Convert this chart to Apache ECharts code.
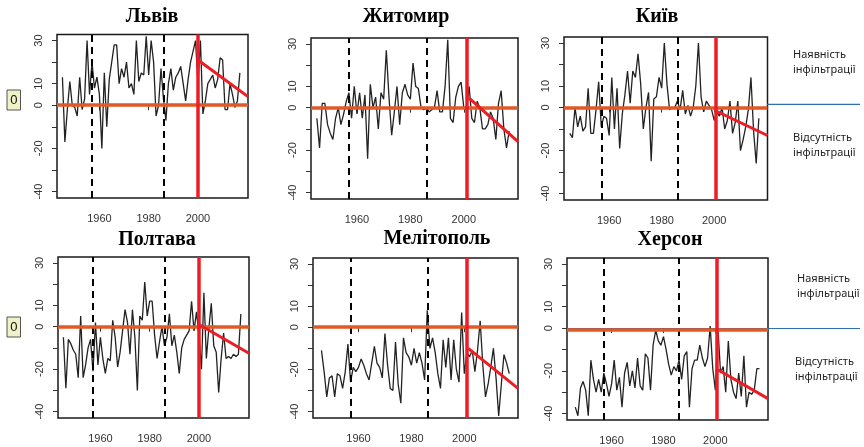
<!DOCTYPE html>
<html><head><meta charset="utf-8">
<script src="https://cdn.jsdelivr.net/npm/echarts@6/dist/echarts.min.js"></script>
<style>html,body{margin:0;padding:0;background:#fff;}#c{width:864px;height:447px;}</style>
</head><body><div id="c"></div>
<script>
// ---- data ----
const stations = ['Львів', 'Житомир', 'Київ', 'Полтава', 'Мелітополь', 'Херсон'];
const startYears = [1945, 1945, 1945, 1945, 1946, 1946];

const lviv = [13,-17,-2,11,0,-1,-5,13,-2,3,
  30,5,20,8,13,5,-20,15,-10,12,
  20,28,28,10,17,13,20,8,10,5,
  30,11,15,14,32,14,30,20,-5,0,
  17,3,-7,10,17,7,13,15,18,10,
  2,12,20,25,30,10,30,-4,2,10,
  12,14,8,12,22,21,-2,-2,10,5,
  -1,2,15];
const zhytomyr = [-5,-19,2,2,-8,-12,-15,-5,0,-8,
  -3,3,7,-5,10,-3,7,-5,6,-24,
  11,0,5,-10,7,4,27,5,-13,-2,
  10,-8,7,11,6,4,21,10,9,0,
  -1,0,-2,-1,0,8,-2,-2,10,32,
  -5,-7,5,10,12,0,-1,10,-5,-7,
  3,0,-10,-10,-8,-2,-5,-15,2,8,
  -10,-19,-11];
const kyiv = [-12,-14,0,-9,-4,-11,-9,9,-12,-12,
  -1,12,-9,-4,-5,-13,14,-10,9,-19,
  -3,6,17,2,17,14,25,11,-10,0,
  7,-25,4,5,14,9,30,11,-1,0,
  0,3,-1,8,-3,1,-4,0,10,30,
  5,-2,3,1,-1,-6,-2,-4,0,-10,
  -6,3,-12,-7,3,-20,-15,-9,-1,14,
  -11,-26,-5];
const poltava = [-5,-29,-6,-8,-11,-13,-24,5,-24,-18,
  -10,-6,-21,2,-18,-5,-15,-22,-15,-16,
  3,-5,-19,-12,-2,8,2,-13,8,-5,
  -30,5,3,21,5,12,12,-4,-15,-7,
  0,-9,-5,6,-9,-4,-12,-22,-10,-6,
  -4,-2,12,-2,7,-4,-20,16,-15,-1,
  11,-9,-12,-31,-15,-3,-15,-14,-15,-13,
  -14,-13,6];
const melitopol = [-11,-21,-33,-24,-23,-33,-22,-23,-29,-21,
  -8,-26,-19,-21,-19,-15,-18,-22,-25,-17,
  -9,-17,-19,-24,-3,-18,-29,-30,-7,-27,
  -36,-5,-12,-14,-18,-10,-17,-12,-17,-25,
  8,-10,-5,-12,-22,-29,-6,-19,-5,-25,
  -6,-20,-26,7,-22,-12,-14,-11,-21,-11,
  3,-18,-33,-27,-19,-10,-24,-42,-27,-13,
  -17,-22];
const kherson = [-37,-41,-28,-25,-29,-41,-15,-24,-30,-24,
  -30,-21,-26,-32,-26,-15,-29,-23,-37,-21,
  -16,-27,-20,-28,-14,-27,-29,-12,-14,-29,
  -8,-1,-6,-8,-4,-10,-17,-22,-18,-20,
  -15,-24,-13,-11,-37,-19,-15,-15,-8,-14,
  -18,-14,1,-19,-29,0,-21,-18,-30,-6,
  -24,-30,-33,-21,-32,-13,-37,-30,-31,-29,
  -19,-19];
const seriesValues = [lviv, zhytomyr, kyiv, poltava, melitopol, kherson];

const dashedYears = [1957, 1986];
const changeYears = [2000, 2001, 2000.5, 2000, 2001, 2000.5];
// trend: [startYear, startValue, endYear, endValue]
const trendLines = [
  [2000, 21, 2020.3, 4],
  [2002, 4.5, 2020.3, -16],
  [2000.5, -1.5, 2020.3, -13],
  [2000, 1, 2020.3, -12.5],
  [2001.5, -10, 2020.3, -29],
  [2001, -19.5, 2020.3, -33]
];
const zeroLevels = [0, 0, 0, 0, 0, -0.8];
const xTicks = [1960, 1980, 2000];
const yTicks = [-40, -30, -20, -10, 0, 10, 20, 30];
const yLabels = [-40, -20, 0, 10, 30];
const textPresent = ['Наявність', 'інфільтрації'];
const textAbsent = ['Відсутність', 'інфільтрації'];
const zeroBoxLabel = '0';

// ---- layout ----
const grids = [
  {left: 57, top: 34.5, width: 191, height: 163.5},
  {left: 311, top: 38, width: 207, height: 161},
  {left: 564, top: 37, width: 203.5, height: 163},
  {left: 58, top: 257, width: 191, height: 161},
  {left: 313, top: 258, width: 205, height: 160},
  {left: 567, top: 258, width: 201, height: 162}
];
const titlePos = [[152, 17], [406, 17], [657, 17], [157, 240], [437, 239], [670, 240]];
const plain = v => String(v);

const option = {
  animation: false,
  backgroundColor: '#fff',
  grid: grids.map(g => Object.assign({show: true, borderColor: '#1a1a1a', borderWidth: 1.5, backgroundColor: 'transparent'}, g)),
  xAxis: grids.map((g, i) => ({
    type: 'value', gridIndex: i, min: 1942.8, max: 2020.3,
    splitLine: {show: false}, axisLine: {show: false},
    axisTick: {show: true, length: 5, customValues: xTicks, lineStyle: {color: '#333'}},
    axisLabel: {customValues: xTicks, formatter: plain, margin: 15, color: '#333', fontSize: 11, fontFamily: 'Liberation Sans'}
  })),
  yAxis: grids.map((g, i) => ({
    type: 'value', gridIndex: i, min: -43, max: 32.8,
    splitLine: {show: false}, axisLine: {show: false},
    axisTick: {show: true, length: 5, customValues: yTicks, lineStyle: {color: '#333'}},
    axisLabel: {customValues: yLabels, formatter: plain, rotate: 90, margin: 13, color: '#333', fontSize: 11, fontFamily: 'Liberation Sans'}
  })),
  series: seriesValues.map((vals, i) => ({
    type: 'line', xAxisIndex: i, yAxisIndex: i,
    data: vals.map((v, k) => [startYears[i] + k, v]),
    showSymbol: false, lineStyle: {color: '#222', width: 1.3},
    silent: true,
    markLine: {
      silent: true, symbol: ['none', 'none'], label: {show: false},
      data: [
        {xAxis: dashedYears[0], lineStyle: {color: '#000', width: 2, type: [7, 5]}},
        {xAxis: dashedYears[1], lineStyle: {color: '#000', width: 2, type: [7, 5]}},
        {yAxis: zeroLevels[i], lineStyle: {color: '#df5a26', width: 3.5, type: 'solid'}},
        {xAxis: changeYears[i], lineStyle: {color: '#ee1c24', width: 3.5, type: 'solid'}},
        [{coord: [trendLines[i][0], trendLines[i][1]]}, {coord: [trendLines[i][2], trendLines[i][3]], lineStyle: {color: '#ee1c24', width: 3, type: 'solid'}}]
      ]
    }
  })),
  graphic: [].concat(
    stations.map((s, i) => ({type: 'text', x: titlePos[i][0], y: titlePos[i][1],
      style: {text: s, align: 'center', verticalAlign: 'middle', font: 'bold 20px "Liberation Serif"', fill: '#000'}})),
    [[90, 100], [317, 327]].flatMap(([y0, yc]) => ([
      {type: 'rect', shape: {x: 7, y: y0, width: 13.5, height: 20}, style: {fill: '#eef2c6', stroke: '#555', lineWidth: 1}},
      {type: 'text', x: 13.75, y: yc, style: {text: zeroBoxLabel, align: 'center', verticalAlign: 'middle', font: '13px "Liberation Sans"', fill: '#111'}}
    ])),
    [
      {type: 'line', shape: {x1: 767, y1: 104.3, x2: 860, y2: 104.3}, style: {stroke: '#2f6fb5', lineWidth: 1.2}},
      {type: 'line', shape: {x1: 567, y1: 328.5, x2: 860, y2: 328.5}, style: {stroke: '#2f6fb5', lineWidth: 1.2}}
    ],
    [[793, 55, textPresent], [793, 138, textAbsent], [797, 279, textPresent], [795, 362, textAbsent]].flatMap(([x, y, t]) => ([
      {type: 'text', x: x, y: y, style: {text: t[0], align: 'left', verticalAlign: 'middle', font: '11px "Noto Sans"', fill: '#222'}},
      {type: 'text', x: x, y: y + 14.5, style: {text: t[1], align: 'left', verticalAlign: 'middle', font: '11px "Noto Sans"', fill: '#222'}}
    ]))
  )
};
const chart = echarts.init(document.getElementById('c'), null, {renderer: 'canvas'});
chart.setOption(option);
</script>
</body></html>
